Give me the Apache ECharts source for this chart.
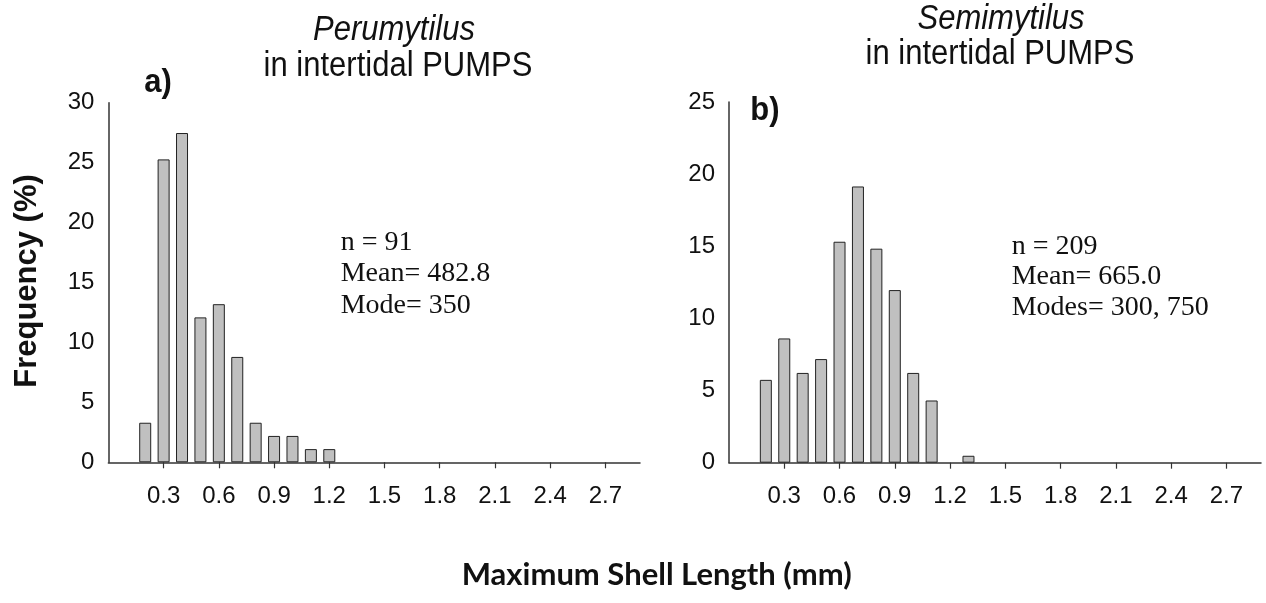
<!DOCTYPE html>
<html>
<head>
<meta charset="utf-8">
<script src="https://cdn.jsdelivr.net/npm/echarts@6/dist/echarts.min.js"></script>
<style>
  html, body { margin: 0; padding: 0; background: #ffffff; }
  #chart { width: 1266px; height: 603px; }
</style>
</head>
<body>
<div id="chart"></div>
<script>
// ---- Data ----
const shellLengthBins = [0.2, 0.3, 0.4, 0.5, 0.6, 0.7, 0.8, 0.9, 1.0, 1.1, 1.2, 1.3];
const perumytilusFreq = [3.3, 25.27, 27.47, 12.09, 13.19, 8.79, 3.3, 2.2, 2.2, 1.1, 1.1, 0];
const semimytilusFreq = [5.74, 8.61, 6.22, 7.18, 15.31, 19.14, 14.83, 11.96, 6.22, 4.31, 0, 0.48];
const xTickLabels = [0.3, 0.6, 0.9, 1.2, 1.5, 1.8, 2.1, 2.4, 2.7];
const leftYTicks = [0, 5, 10, 15, 20, 25, 30];
const rightYTicks = [0, 5, 10, 15, 20, 25];
const leftTitle = ['Perumytilus', 'in intertidal PUMPS'];
const rightTitle = ['Semimytilus', 'in intertidal PUMPS'];
const leftStats = ['n = 91', 'Mean= 482.8', 'Mode= 350'];
const rightStats = ['n = 209', 'Mean= 665.0', 'Modes= 300, 750'];
const panelLabels = ['a)', 'b)'];
const yAxisTitle = 'Frequency (%)';
const xAxisTitle = 'Maximum Shell Length (mm)';

// empty bins draw nothing
const pairs = (xs, ys) => xs.map((x, i) => [x, ys[i]]).filter(p => p[1] > 0);

const chart = echarts.init(document.getElementById('chart'), null, { renderer: 'canvas' });

const axisColor = '#333333';
const sans = 'Liberation Sans, Arial, sans-serif';

function xAxis(gridIndex) {
  return {
    type: 'value', gridIndex, min: 0, max: 2.888,
    axisLine: { show: true, lineStyle: { color: axisColor, width: 1.5 } },
    axisTick: { show: true, inside: false, length: 6, customValues: xTickLabels, lineStyle: { color: axisColor, width: 1.2 } },
    axisLabel: { customValues: xTickLabels, formatter: v => v.toFixed(1), fontSize: 24, fontFamily: sans, color: '#111', margin: 22 },
    splitLine: { show: false }
  };
}
function yAxis(gridIndex, ticks) {
  return {
    type: 'value', gridIndex, min: ticks[0], max: ticks[ticks.length - 1], interval: ticks[1] - ticks[0],
    axisLine: { show: true, lineStyle: { color: axisColor, width: 1.5 } },
    axisTick: { show: false },
    axisLabel: { fontSize: 24, fontFamily: sans, color: '#111', margin: 14 },
    splitLine: { show: false }
  };
}
function barSeries(idx, data) {
  return {
    type: 'bar', xAxisIndex: idx, yAxisIndex: idx, data: pairs(shellLengthBins, data),
    barWidth: 12,
    itemStyle: { color: '#c0c0c0', borderColor: '#222', borderWidth: 1 },
    silent: true, animation: false
  };
}
function txt(text, x, y, opts) {
  return Object.assign({
    type: 'text', x, y, silent: true,
    style: Object.assign({ text, fill: '#111', align: 'center', verticalAlign: 'middle' }, opts.style)
  }, opts.el || {});
}

const option = {
  animation: false,
  grid: [
    { left: 108.4, right: 1266 - 640, top: 102.7, bottom: 603 - 462.3 },
    { left: 729, right: 5, top: 101.9, bottom: 603 - 462.7 }
  ],
  xAxis: [xAxis(0), xAxis(1)],
  yAxis: [yAxis(0, leftYTicks), yAxis(1, rightYTicks)],
  series: [barSeries(0, perumytilusFreq), barSeries(1, semimytilusFreq)],
  graphic: [
    txt(leftTitle[0], 394, 30, { style: { font: 'italic 31px ' + sans }, el: { scaleY: 1.12 } }),
    txt(leftTitle[1], 398, 66, { style: { font: '31px ' + sans }, el: { scaleY: 1.12 } }),
    txt(rightTitle[0], 1001, 19, { style: { font: 'italic 31px ' + sans }, el: { scaleY: 1.12 } }),
    txt(rightTitle[1], 1000, 54.5, { style: { font: '31px ' + sans }, el: { scaleY: 1.12 } }),
    txt(panelLabels[0], 158, 83, { style: { font: 'bold 31px ' + sans }, el: { scaleY: 1.1 } }),
    txt(panelLabels[1], 765, 111, { style: { font: 'bold 31px ' + sans }, el: { scaleY: 1.1 } }),
    txt(leftStats.join('\n'), 340.7, 274, { style: { font: '28px Liberation Serif, Times New Roman, serif', align: 'left', lineHeight: 31.5 } }),
    txt(rightStats.join('\n'), 1011.7, 277, { style: { font: '28px Liberation Serif, Times New Roman, serif', align: 'left', lineHeight: 30.7 } }),
    txt(yAxisTitle, 27.5, 281, { style: { font: 'bold 31px ' + sans }, el: { rotation: Math.PI / 2 } }),
    txt(xAxisTitle, 656.7, 575, { style: { font: 'bold 31px Lato, Open Sans, sans-serif' } })
  ]
};
chart.setOption(option);
</script>
</body>
</html>
